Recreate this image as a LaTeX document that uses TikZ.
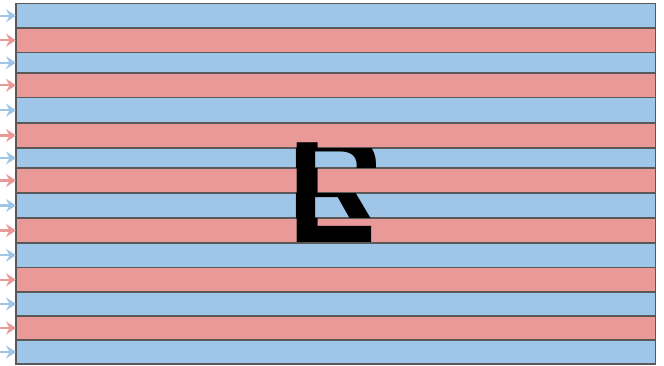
\documentclass[tikz,border=0pt]{standalone}
\usepackage{fontspec}
\setmainfont{Liberation Sans}
\usetikzlibrary{arrows.meta}
\definecolor{RowBlue}{HTML}{9FC5E8}
\definecolor{RowRed}{HTML}{EA9999}
\definecolor{RowEdge}{HTML}{595959}
\tikzset{
  stripe/.style={draw=RowEdge, line width=1.6pt, minimum width=639.5pt,
                 inner sep=0pt, outer sep=0pt},
  feed/.style={-{Stealth[length=10pt,width=13pt,inset=3.5pt]}, line width=2.3pt},
  glyph/.style={inner sep=0pt, anchor=base west,
                font=\fontsize{145}{145}\selectfont\bfseries},
}

\begin{document}
\begin{tikzpicture}[x=1pt,y=-1pt]
  \useasboundingbox (0,0) rectangle (664,366);
  \foreach \ya/\yb/\tone [count=\i] in {3.5/28/RowBlue, 28/52.5/RowRed,
      52.5/73/RowBlue, 73/97.5/RowRed, 97.5/123/RowBlue, 123/148/RowRed,
      148/168/RowBlue, 168/193/RowRed, 193/218/RowBlue, 218/243/RowRed,
      243/267.5/RowBlue, 267.5/292/RowRed, 292/316/RowBlue, 316/340/RowRed,
      340/364/RowBlue} {
    \node[stripe, fill=\tone, minimum height={(\yb-\ya)*1pt}] (row\i)
      at (335.75, {(\ya+\yb)/2}) {};
    \coordinate (in\i) at (0, {(\ya+\yb)/2});
    \draw[feed, draw=\tone, fill=\tone] (in\i) -- (row\i.west);
  }
  \begin{scope}
    \clip \foreach \i in {1,3,...,15} {(row\i.north west) rectangle (row\i.south east)};
    \node[glyph, xscale=0.92] (rightletter) at (287.4,236) {R};
  \end{scope}
  \begin{scope}
    \clip \foreach \i in {2,4,...,14} {(row\i.north west) rectangle (row\i.south east)};
    \node[glyph] (leftletter) at (287.4,243) {L};
  \end{scope}
\end{tikzpicture}
\end{document}
